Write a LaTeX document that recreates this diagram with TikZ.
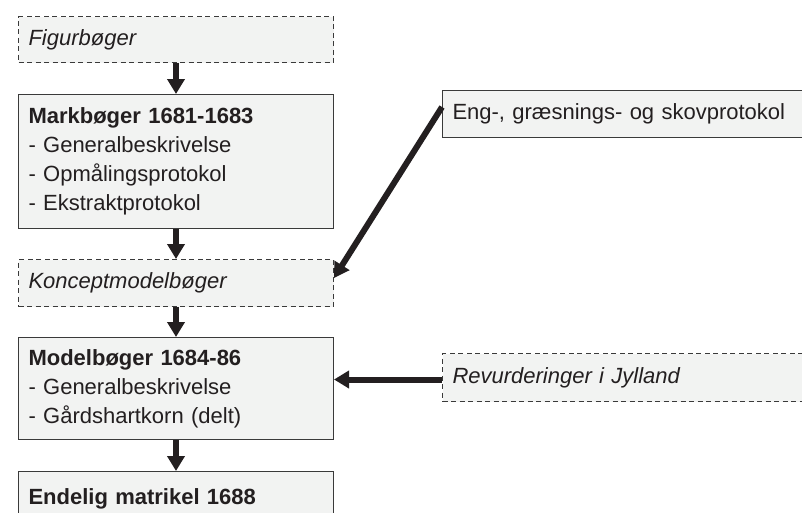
\documentclass[tikz,border=0pt]{standalone}
\usepackage{fontspec}
\setmainfont{Liberation Sans}
\usetikzlibrary{arrows.meta,calc}
\definecolor{boxfill}{HTML}{F2F3F2}
\definecolor{boxline}{HTML}{3A3A3A}
\definecolor{ink}{HTML}{231F20}
\tikzset{
  basebox/.style={draw=boxline, line width=1pt, fill=boxfill, text=ink,
    anchor=north west, inner xsep=10pt, inner ysep=0pt, align=left,
    font=\fontsize{22pt}{29pt}\selectfont},
  solidbox/.style={basebox},
  dashbox/.style={basebox, dash pattern=on 5pt off 3.5pt},
  flow/.style={draw=ink, line width=6pt,
    -{Triangle[width=17pt,length=15pt]}}
}
\begin{document}
\begin{tikzpicture}[x=1pt,y=-1pt]
\useasboundingbox (0,0) rectangle (802,512);
\clip (0,0) rectangle (802,512);
\node[dashbox, text width=295pt, minimum height=46pt] (fig) at (18,16) {\itshape Figurbøger};
\node[solidbox, text width=295pt, minimum height=134pt] (mark) at (18,94)
  {\textbf{Markbøger 1681-1683}\\- Generalbeskrivelse\\- Opmålingsprotokol\\- Ekstraktprotokol};
\node[dashbox, text width=295pt, minimum height=47pt] (kon) at (18,259) {\itshape Konceptmodelbøger};
\node[solidbox, text width=295pt, minimum height=102pt] (mod) at (18,337)
  {\textbf{Modelbøger 1684-86}\\- Generalbeskrivelse\\- Gårdshartkorn (delt)};
\node[solidbox, text width=295pt, minimum height=54pt] (end) at (18,471) {\textbf{Endelig matrikel 1688}};
\node[solidbox, text width=370pt, minimum height=47pt] (eng) at (442,90) {Eng-, græsnings- og skovprotokol};
\node[dashbox, text width=370pt, minimum height=48pt] (rev) at (442,353) {\itshape Revurderinger i Jylland};
\draw[flow] (fig.south) -- (mark.north);
\draw[flow] (mark.south) -- (kon.north);
\draw[flow] (kon.south) -- (mod.north);
\draw[flow] (mod.south) -- (end.north);
\draw[flow] ([yshift=7pt]eng.west) -- ([yshift=5pt]kon.east);
\draw[flow] ([yshift=-2pt]rev.west) -- ([yshift=-2pt]rev.west -| mod.east);
\end{tikzpicture}
\end{document}
